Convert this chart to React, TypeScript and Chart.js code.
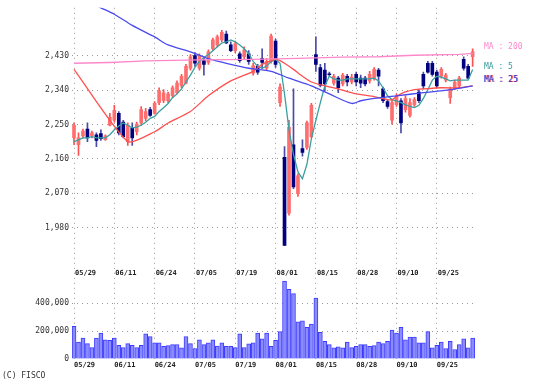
import { useEffect, useRef } from 'react';
import { Chart, registerables } from 'chart.js';

Chart.register(...registerables);

// ---- data ----
const dateLabels = ['05/29', '06/11', '06/24', '07/05', '07/19', '08/01', '08/15', '08/28', '09/10', '09/25'];
const dateTickIdx = [0, 9, 18, 27, 36, 45, 54, 63, 72, 81];
const priceTicks = [1980, 2070, 2160, 2250, 2340, 2430];
const volumeTicks = [0, 200000, 400000];

const open = [
  2215, 2197, 2220, 2238, 2220, 2223, 2226, 2210, 2248, 2261,
  2279, 2256, 2205, 2241, 2231, 2254, 2266, 2289, 2279, 2307,
  2312, 2312, 2325, 2333, 2351, 2358, 2397, 2430, 2397, 2417,
  2412, 2448, 2458, 2471, 2486, 2458, 2443, 2435, 2427, 2435,
  2384, 2402, 2422, 2397, 2415, 2468, 2307, 2164, 2018, 2197,
  2069, 2187, 2190, 2218, 2433, 2399, 2392, 2382, 2358, 2371,
  2356, 2376, 2361, 2381, 2371, 2371, 2364, 2371, 2392, 2343,
  2310, 2261, 2302, 2312, 2289, 2274, 2302, 2335, 2381, 2410,
  2410, 2387, 2376, 2366, 2320, 2343, 2351, 2420, 2402, 2427,
];
const close = [
  2248, 2215, 2233, 2215, 2228, 2208, 2213, 2220, 2269, 2287,
  2228, 2218, 2248, 2215, 2251, 2289, 2284, 2274, 2305, 2338,
  2333, 2330, 2346, 2358, 2376, 2402, 2427, 2410, 2430, 2407,
  2440, 2471, 2479, 2491, 2463, 2443, 2461, 2417, 2445, 2415,
  2404, 2387, 2412, 2415, 2481, 2407, 2348, 1934, 2243, 2087,
  2116, 2177, 2254, 2300, 2407, 2353, 2356, 2380, 2376, 2346,
  2379, 2361, 2374, 2361, 2358, 2356, 2381, 2394, 2376, 2312,
  2297, 2307, 2323, 2254, 2318, 2307, 2315, 2312, 2351, 2387,
  2381, 2351, 2394, 2379, 2343, 2361, 2371, 2397, 2371, 2440,
];
const high = [
  2254, 2228, 2238, 2254, 2233, 2228, 2236, 2223, 2279, 2300,
  2284, 2261, 2254, 2254, 2256, 2297, 2292, 2295, 2310, 2346,
  2341, 2335, 2351, 2364, 2381, 2407, 2433, 2438, 2435, 2425,
  2445, 2476, 2484, 2496, 2494, 2466, 2468, 2440, 2453, 2443,
  2410, 2407, 2448, 2422, 2486, 2473, 2356, 2192, 2261, 2343,
  2121, 2210, 2259, 2305, 2479, 2407, 2410, 2387, 2381, 2376,
  2384, 2381, 2381, 2387, 2379, 2376, 2389, 2399, 2397, 2348,
  2315, 2315, 2330, 2318, 2325, 2318, 2320, 2341, 2387, 2415,
  2415, 2392, 2399, 2384, 2348, 2366, 2376, 2427, 2407, 2448,
];
const low = [
  2197, 2169, 2215, 2205, 2215, 2192, 2208, 2208, 2246, 2256,
  2223, 2215, 2195, 2195, 2223, 2248, 2259, 2271, 2277, 2302,
  2307, 2307, 2320, 2330, 2346, 2356, 2392, 2402, 2392, 2379,
  2407, 2443, 2453, 2466, 2461, 2440, 2438, 2412, 2422, 2407,
  2379, 2381, 2397, 2392, 2410, 2399, 2297, 1934, 2013, 2082,
  2062, 2167, 2185, 2215, 2389, 2348, 2338, 2376, 2353, 2333,
  2351, 2351, 2356, 2351, 2346, 2351, 2358, 2366, 2351, 2307,
  2292, 2251, 2297, 2228, 2282, 2269, 2297, 2307, 2343, 2384,
  2376, 2346, 2371, 2361, 2305, 2341, 2346, 2392, 2369, 2402,
];
const volume = [
  234000, 121000, 150000, 110000, 82000, 150000, 185000, 138000, 133000, 150000,
  98000, 82000, 110000, 98000, 82000, 98000, 180000, 161000, 115000, 115000,
  91000, 96000, 103000, 103000, 80000, 161000, 110000, 75000, 138000, 103000,
  115000, 138000, 93000, 115000, 91000, 91000, 82000, 180000, 82000, 108000,
  115000, 185000, 145000, 185000, 91000, 133000, 196000, 559000, 500000, 468000,
  267000, 274000, 227000, 250000, 437000, 192000, 126000, 103000, 80000, 87000,
  80000, 121000, 82000, 91000, 103000, 103000, 91000, 96000, 121000, 110000,
  126000, 208000, 185000, 227000, 138000, 157000, 157000, 115000, 115000, 196000,
  80000, 98000, 121000, 75000, 126000, 68000, 103000, 145000, 80000, 150000,
];
const ma5 = [
  2205, 2210, 2215, 2215, 2218, 2215, 2215, 2215, 2223, 2236,
  2246, 2254, 2248, 2241, 2243, 2248, 2256, 2266, 2271, 2284,
  2294, 2305, 2320, 2330, 2343, 2361, 2379, 2399, 2415, 2425,
  2433, 2443, 2453, 2463, 2466, 2471, 2466, 2458, 2448, 2435,
  2415, 2402, 2397, 2402, 2415, 2420, 2410, 2330, 2236, 2172,
  2126, 2108, 2146, 2213, 2261, 2307, 2351, 2376, 2369, 2366,
  2366, 2369, 2369, 2369, 2369, 2369, 2369, 2371, 2364, 2346,
  2325, 2315, 2312, 2307, 2302, 2297, 2294, 2300, 2318, 2341,
  2366, 2376, 2374, 2369, 2364, 2366, 2366, 2366, 2366, 2394,
];
const ma25Idx = [0, 12, 18, 21, 26, 30, 35, 40, 42, 44, 45, 46, 47, 49, 51, 53, 56, 59, 63, 67, 70, 71, 72, 73, 74, 76, 78, 82, 86, 89];
const ma25Val = [2394, 2205, 2231, 2254, 2284, 2325, 2364, 2389, 2407, 2417, 2420, 2417, 2410, 2394, 2376, 2361, 2351, 2343, 2330, 2323, 2315, 2315, 2323, 2330, 2335, 2341, 2343, 2346, 2346, 2351];
const ma75Idx = [0, 3, 6, 9, 13, 18, 21, 26, 30, 35, 39, 44, 48, 53, 57, 62, 64, 67, 72, 78, 84, 89];
const ma75Val = [2594, 2573, 2555, 2538, 2509, 2479, 2458, 2440, 2422, 2407, 2397, 2389, 2371, 2351, 2330, 2305, 2312, 2318, 2325, 2333, 2341, 2351];
const ma200Idx = [0, 8, 16, 28, 40, 50, 60, 68, 76, 86, 89];
const ma200Val = [2410, 2412, 2416, 2419, 2420, 2423, 2426, 2427, 2431, 2433, 2436];

const MONO = '"DejaVu Sans Mono", monospace';

const overlay = {
  id: 'overlay',
  afterDraw(chart: any) {
    const ctx = chart.ctx;
    const xs = chart.scales.x;
    ctx.save();
    ctx.textAlign = 'left';
    ctx.textBaseline = 'middle';
    ctx.font = `bold 7px ${MONO}`;
    ctx.fillStyle = '#222';
    dateTickIdx.forEach((v, k) => {
      ctx.fillText(dateLabels[k], xs.getPixelForValue(v) + 1, 273);
    });
    ctx.font = `8px ${MONO}`;
    ctx.fillStyle = '#333';
    ctx.fillText('(C) FISCO', 2, 376);
    ctx.fillStyle = '#ff88cc';
    ctx.fillText('MA : 200', 484, 47);
    ctx.fillStyle = '#339999';
    ctx.fillText('MA : 5', 484, 67);
    ctx.fillStyle = '#ff4444';
    ctx.fillText('MA : 25', 485, 80);
    ctx.fillStyle = '#3333cc';
    ctx.fillText('MA : 25', 484, 80);
    ctx.restore();
  },
};

export default function App() {
  const ref = useRef<HTMLCanvasElement>(null);
  useEffect(() => {
    document.body.style.margin = '0';
    const canvas = ref.current!;
    const up = close.map((c, i) => c >= open[i]);
    const pts = (idx: number[], val: number[]) => idx.map((x, k) => ({ x, y: val[k] }));
    const dotted = [1, 4];
    const chart = new Chart(canvas, {
      type: 'bar',
      data: {
        datasets: [
          {
            type: 'line', label: 'MA200', yAxisID: 'y', data: pts(ma200Idx, ma200Val),
            borderColor: '#ff88cc', borderWidth: 1.3, pointRadius: 0, tension: 0, order: 0,
          } as any,
          {
            type: 'line', label: 'MA75', yAxisID: 'y', data: pts(ma75Idx, ma75Val),
            borderColor: '#4a4af0', borderWidth: 1.3, pointRadius: 0, tension: 0.3, order: 0,
          },
          {
            type: 'line', label: 'MA25', yAxisID: 'y', data: pts(ma25Idx, ma25Val),
            borderColor: '#ff5050', borderWidth: 1.3, pointRadius: 0, tension: 0.2, order: 0,
          },
          {
            type: 'line', label: 'MA5', yAxisID: 'y', data: ma5.map((v, i) => ({ x: i, y: v })),
            borderColor: '#3aa0a0', borderWidth: 1.3, pointRadius: 0, tension: 0, order: 0,
          },
          {
            type: 'bar', label: 'body', yAxisID: 'y', data: open.map((o, i) => ({ x: i, y: [o, close[i]] })),
            backgroundColor: up.map(u => (u ? '#ff6e6e' : '#000080')), borderWidth: 0,
            barThickness: 3, minBarLength: 1, grouped: false, order: 1,
          },
          {
            type: 'bar', label: 'wick', yAxisID: 'y', data: high.map((h, i) => ({ x: i, y: [low[i], h] })),
            backgroundColor: up.map(u => (u ? '#ff5050' : '#4a4aa8')), borderWidth: 0,
            barThickness: 1, grouped: false, order: 2,
          },
          {
            type: 'bar', label: 'volume', yAxisID: 'yv', data: volume.map((v, i) => ({ x: i, y: v })),
            backgroundColor: '#8c8cff', borderColor: '#3c3cff', borderWidth: 1,
            barThickness: 4, grouped: false, order: 3,
          },
        ],
      } as any,
      options: {
        responsive: false,
        animation: false,
        events: [],
        layout: { padding: { left: 0, right: 57, top: 0, bottom: 0 } },
        plugins: { legend: { display: false }, tooltip: { enabled: false } },
        scales: {
          x: {
            type: 'linear', min: -0.45, max: 89.75, bounds: 'data', offset: false,
            grid: { offset: false, color: '#999', lineWidth: 1, drawTicks: false },
            border: { display: false, dash: dotted },
            ticks: {
              autoSkip: false, maxRotation: 0, align: 'start', padding: 2, color: '#222',
              font: { family: MONO, size: 7, weight: 'bold' },
              callback: (_v: any, k: number) => dateLabels[k] ?? '',
            },
            afterBuildTicks: (s: any) => { s.ticks = dateTickIdx.map(v => ({ value: v })); },
            afterFit: (s: any) => { s.height = 27; },
          },
          yv: {
            type: 'linear', position: 'left', stack: 'main', stackWeight: 97,
            min: 0, max: 680000, beginAtZero: false,
            grid: { color: (c: any) => (c.tick && c.tick.value === 0 ? 'rgba(0,0,0,0)' : '#999'), lineWidth: 1, drawTicks: false },
            border: { display: false, dash: dotted },
            ticks: {
              padding: 3, color: '#333', font: { family: MONO, size: 8 },
              callback: (v: any) => Number(v).toLocaleString('en-US'),
            },
            afterBuildTicks: (s: any) => { s.ticks = volumeTicks.map(v => ({ value: v })); },
            afterFit: (s: any) => { s.width = 72; },
          },
          y: {
            type: 'linear', position: 'left', stack: 'main', stackWeight: 262,
            min: 1885, max: 2555, beginAtZero: false,
            grid: { color: '#999', lineWidth: 1, drawTicks: false },
            border: { display: false, dash: dotted },
            ticks: {
              padding: 3, color: '#333', font: { family: MONO, size: 8 },
              callback: (v: any) => Number(v).toLocaleString('en-US'),
            },
            afterBuildTicks: (s: any) => { s.ticks = priceTicks.map(v => ({ value: v })); },
            afterFit: (s: any) => { s.width = 72; },
          },
        },
      } as any,
      plugins: [overlay],
    });
    return () => chart.destroy();
  }, []);
  return (
    <div style={{ width: 533, height: 386 }}>
      <canvas ref={ref} width={533} height={386} style={{ display: 'block' }} />
    </div>
  );
}
